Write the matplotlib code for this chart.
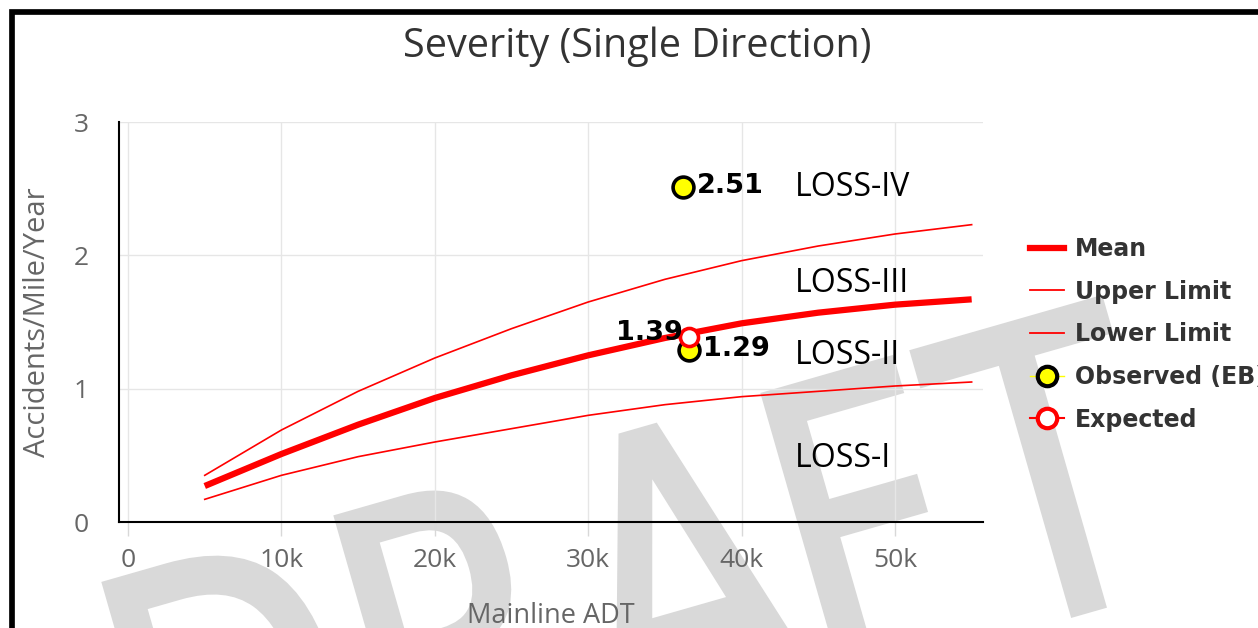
import math
import matplotlib
matplotlib.use('Agg')
import matplotlib.pyplot as plt
from matplotlib.lines import Line2D
from matplotlib.patches import Rectangle, PathPatch
from matplotlib.textpath import TextPath
from matplotlib.font_manager import FontProperties
from matplotlib.transforms import Affine2D

# curves (accidents/mile/year vs mainline ADT)
adt = [5000, 10000, 15000, 20000, 25000, 30000, 35000, 40000, 45000, 50000, 55000]
mean_rate = [0.27, 0.51, 0.73, 0.93, 1.10, 1.25, 1.38, 1.49, 1.57, 1.63, 1.67]
upper_limit = [0.35, 0.69, 0.98, 1.23, 1.45, 1.65, 1.82, 1.96, 2.07, 2.16, 2.23]
lower_limit = [0.17, 0.35, 0.49, 0.60, 0.70, 0.80, 0.88, 0.94, 0.98, 1.02, 1.05]

observed_adt = [36200, 36600]
observed_rate = [2.51, 1.29]
expected_adt = [36600]
expected_rate = [1.39]

loss_labels = ['LOSS-IV', 'LOSS-III', 'LOSS-II', 'LOSS-I']
x_ticks = [0, 10000, 20000, 30000, 40000, 50000]
x_tick_labels = ['0', '10k', '20k', '30k', '40k', '50k']
y_ticks = [0, 1, 2, 3]

W, H = 1258, 628
plt.rcParams['font.family'] = ['Open Sans', 'DejaVu Sans']

fig = plt.figure(figsize=(W / 100, H / 100), dpi=100, facecolor='white')
ax = fig.add_axes([119 / W, 1 - 522 / H, 864 / W, 400 / H])
ax.patch.set_alpha(0)

red = '#ff0000'
ax.plot(adt, upper_limit, color=red, lw=1.2, zorder=3)
ax.plot(adt, lower_limit, color=red, lw=1.2, zorder=3)
ax.plot(adt, mean_rate, color=red, lw=4.5, solid_capstyle='butt', zorder=4)

ax.plot(observed_adt, observed_rate, 'o', ms=15, mfc='#ffff00', mec='black', mew=2.6, zorder=5)
ax.plot(expected_adt, expected_rate, 'o', ms=13, mfc='white', mec=red, mew=2.6, zorder=6)

bold = dict(family='DejaVu Sans', fontweight='bold', fontsize=19.5, color='black')
for x, y in zip(observed_adt, observed_rate):
    ax.annotate(f'{y:.2f}', (x, y), xytext=(10, 1), textcoords='offset points',
                ha='left', va='center', zorder=7, **bold)
for x, y in zip(expected_adt, expected_rate):
    ax.annotate(f'{y:.2f}', (x, y), xytext=(-5, 3), textcoords='offset points',
                ha='right', va='center', zorder=7, **bold)

loss_y = [2.51, 1.79, 1.25, 0.48]
for lab, y in zip(loss_labels, loss_y):
    ax.text(43500, y, lab, ha='left', va='center', fontsize=23, color='black', zorder=7)

ax.set_xlim(-590, 55740)
ax.set_ylim(0, 3)
ax.set_xticks(x_ticks, x_tick_labels)
ax.set_yticks(y_ticks)
ax.grid(True, color='#e6e6e6', lw=1)
ax.set_axisbelow(True)
for s in ['top', 'right']:
    ax.spines[s].set_visible(False)
for s in ['left', 'bottom']:
    ax.spines[s].set_color('black')
    ax.spines[s].set_linewidth(1.5)
ax.tick_params(axis='x', length=10, width=1, color='#d8d8d8', labelsize=19,
               labelcolor='#666666', pad=9)
ax.tick_params(axis='y', length=0, labelsize=19, labelcolor='#666666', pad=22)

ax.set_ylabel('Accidents/Mile/Year', fontsize=21, color='#666666')
ax.yaxis.set_label_coords(-0.077, 0.5)
ax.set_xlabel('Mainline ADT', fontsize=19.5, color='#666666')
ax.xaxis.set_label_coords(0.5, -0.2)

fig.text(637 / W, 1 - 47 / H, 'Severity (Single Direction)', ha='center', va='center',
         fontsize=28.5, color='#333333')

handles = [
    Line2D([], [], color=red, lw=4.5),
    Line2D([], [], color=red, lw=1.3),
    Line2D([], [], color=red, lw=1.3),
    Line2D([], [], color='#ffff00', lw=1, marker='o', ms=14, mfc='#ffff00', mec='black', mew=3),
    Line2D([], [], color=red, lw=1.5, marker='o', ms=14, mfc='white', mec=red, mew=3),
]
labels = ['Mean', 'Upper Limit', 'Lower Limit', 'Observed (EB)', 'Expected']
fig.legend(handles, labels, loc='upper left', bbox_to_anchor=(1030 / W, 1 - 237 / H),
           frameon=False, prop=dict(family='DejaVu Sans', weight='bold', size=17),
           labelcolor='#333333', handlelength=1.45, handletextpad=0.45,
           labelspacing=0.79, borderpad=0, borderaxespad=0)

# DRAFT watermark: each letter placed along a cap line tilted 16 degrees
wm_grey = '#d9d9d9'
wm_left = [105, 337, 537, 764, 913]
tilt = 16
for letter, lx in zip('DRAFT', wm_left):
    p = TextPath((0, 0), letter, size=1, prop=FontProperties(family='DejaVu Sans'))
    ext = p.get_extents()
    sy = 296 / ext.height
    sx = sy * 0.778
    ly = 395 + (764 - lx) * math.tan(math.radians(tilt))
    tr = (Affine2D().translate(-ext.x0, -ext.y1).scale(sx, sy)
          .rotate_deg(tilt).translate(lx, H - ly))
    fig.add_artist(PathPatch(p, transform=tr, fc=wm_grey, ec=wm_grey, lw=4.3, zorder=-1))

# black frame around the screenshot
fig.add_artist(Rectangle((12.2 / W, -0.2), 2, 1.2 - 12.2 / H, transform=fig.transFigure,
                         fill=False, ec='black', lw=4.1, clip_on=False, zorder=10))

fig.savefig('out.png', dpi=100, facecolor='white')
